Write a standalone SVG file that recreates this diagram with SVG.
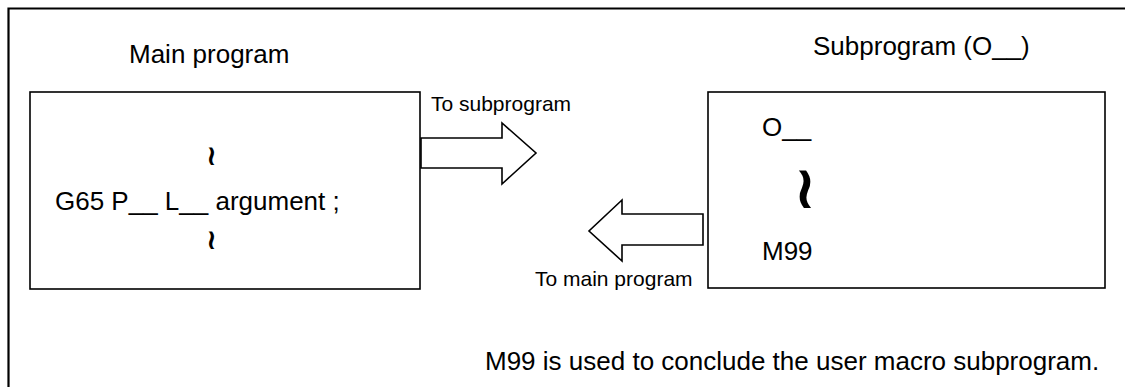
<svg xmlns="http://www.w3.org/2000/svg" width="1125" height="387" viewBox="0 0 1125 387">
<style>
text{font-family:"Liberation Sans",Arial,sans-serif;fill:#000}
.big{font-size:26px}
.lbl{font-size:21px}
.box{fill:#fff;stroke:#000;stroke-width:1.6}
.arrow{fill:#fff;stroke:#000;stroke-width:1.6;stroke-linejoin:miter}
.frame{fill:none;stroke:#000;stroke-width:2.2}
.wave{font-family:"DejaVu Sans",sans-serif;font-weight:bold}
</style>
<rect width="1125" height="387" fill="#fff"/>
<path class="frame" d="M8.5,387 V8.5 H1125"/>
<g id="main-program">
<text class="big" x="129" y="63">Main program</text>
<rect class="box" x="30" y="92" width="390" height="197"/>
<text class="wave" x="211.5" y="165" font-size="28" text-anchor="middle">≀</text>
<text class="big" x="55" y="210">G65 P__ L__ argument ;</text>
<text class="wave" x="211.5" y="249" font-size="28" text-anchor="middle">≀</text>
</g>
<g id="subprogram">
<text class="big" x="813" y="55">Subprogram (O__)</text>
<rect class="box" x="708" y="92" width="397" height="196"/>
<text class="big" x="762" y="136">O__</text>
<text class="wave" x="805" y="208" font-size="60" text-anchor="middle">≀</text>
<text class="big" x="762" y="260">M99</text>
</g>
<g id="connectors">
<polygon class="arrow" points="421,138 502,138 502,123 536,153 502,184 502,168 421,168"/>
<text class="lbl" x="431" y="111">To subprogram</text>
<polygon class="arrow" points="703,214 622,214 622,200 589,231 622,261 622,245 703,245"/>
<text class="lbl" x="535" y="286">To main program</text>
</g>
<g id="note">
<text class="big" x="485" y="370">M99 is used to conclude the user macro subprogram.</text>
</g>
</svg>
